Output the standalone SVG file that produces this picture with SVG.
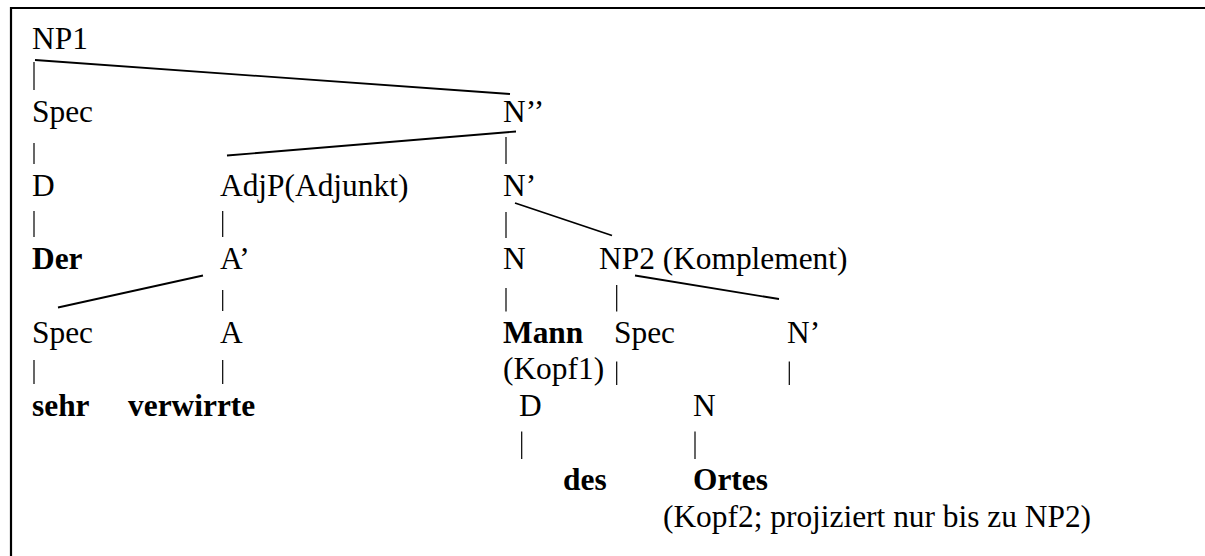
<svg xmlns="http://www.w3.org/2000/svg" width="1205" height="556" viewBox="0 0 1205 556">
<style>
.t{font-family:"Liberation Serif","Times New Roman",serif;font-size:31.4px;fill:#000}
.b{font-weight:bold}
.e{stroke:#000;stroke-width:1.8;fill:none}
.p{stroke:#000;stroke-width:1.2;fill:none}
</style>
<rect x="0" y="0" width="1205" height="556" fill="#fff"/>
<path d="M1205,8 H11 V556" fill="none" stroke="#000" stroke-width="2.2"/>
<g id="connectors">
<line class="e" x1="35" y1="60" x2="510" y2="94"/>
<line class="e" x1="516" y1="131.5" x2="227" y2="155.5"/>
<line class="e" x1="203" y1="275.5" x2="58" y2="307.5"/>
<line class="e" x1="515" y1="203" x2="612" y2="235.5"/>
<line class="e" x1="635" y1="275.5" x2="779" y2="299"/>
<line class="p" x1="34" y1="62" x2="34" y2="90"/>
<line class="p" x1="34" y1="143" x2="34" y2="164"/>
<line class="p" x1="506" y1="137" x2="506" y2="164"/>
<line class="p" x1="34" y1="211" x2="34" y2="237"/>
<line class="p" x1="222.7" y1="211" x2="222.7" y2="237"/>
<line class="p" x1="506" y1="212" x2="506" y2="238"/>
<line class="p" x1="222.7" y1="290" x2="222.7" y2="311"/>
<line class="p" x1="506" y1="288" x2="506" y2="311.5"/>
<line class="p" x1="616.7" y1="285" x2="616.7" y2="311.5"/>
<line class="p" x1="34" y1="360" x2="34" y2="384"/>
<line class="p" x1="222.7" y1="360" x2="222.7" y2="384"/>
<line class="p" x1="616.7" y1="361.5" x2="616.7" y2="385"/>
<line class="p" x1="789.3" y1="361.5" x2="789.3" y2="385"/>
<line class="p" x1="521.7" y1="431.5" x2="521.7" y2="459"/>
<line class="p" x1="695" y1="431.5" x2="695" y2="459"/>
</g>
<g class="t">
<g id="NP1"><text x="32" y="49">NP1</text></g>
<g id="Spec1"><text x="32" y="122">Spec</text></g>
<g id="N2bar"><text x="503" y="122">N’’</text></g>
<g id="D1"><text x="32" y="195.5">D</text></g>
<g id="AdjP"><text x="220" y="195.5">AdjP(Adjunkt)</text></g>
<g id="N1bar"><text x="503" y="195.5">N’</text></g>
<g id="Der"><text class="b" x="32" y="268.5">Der</text></g>
<g id="A1bar"><text x="220" y="268.5">A’</text></g>
<g id="N1"><text x="503" y="268.5">N</text></g>
<g id="NP2"><text x="599" y="268.5">NP2 (Komplement)</text></g>
<g id="Spec2"><text x="32" y="342.5">Spec</text></g>
<g id="A"><text x="220" y="342.5">A</text></g>
<g id="Mann"><text class="b" x="503" y="342.5">Mann</text><text x="503" y="379">(Kopf1)</text></g>
<g id="Spec3"><text x="614" y="342.5">Spec</text></g>
<g id="N1bar2"><text x="787" y="342.5">N’</text></g>
<g id="sehr"><text class="b" x="32" y="415.5">sehr</text></g>
<g id="verwirrte"><text class="b" x="128" y="415.5">verwirrte</text></g>
<g id="D2"><text x="519" y="415.5">D</text></g>
<g id="N2"><text x="693" y="415.5">N</text></g>
<g id="des"><text class="b" x="563" y="490">des</text></g>
<g id="Ortes"><text class="b" x="693" y="490">Ortes</text><text x="663" y="527">(Kopf2; projiziert nur bis zu NP2)</text></g>
</g>
</svg>
